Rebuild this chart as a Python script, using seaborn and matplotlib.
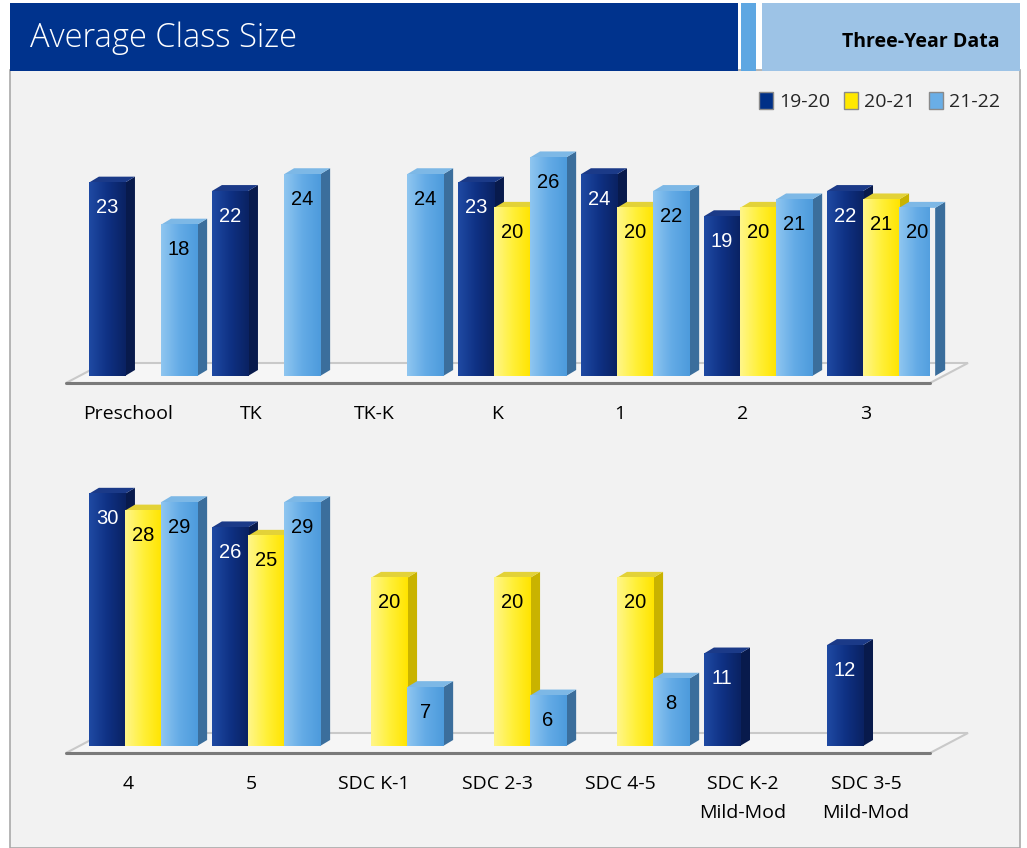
import numpy as np
import pandas as pd
import matplotlib
matplotlib.use("Agg")
import matplotlib.pyplot as plt
import seaborn as sns
from matplotlib.patches import Polygon, Rectangle, Patch
from matplotlib.transforms import ScaledTranslation, IdentityTransform
from matplotlib.colors import LinearSegmentedColormap, to_hex

# ---- data ----
years = ["19-20", "20-21", "21-22"]

cats_top = ["Preschool", "TK", "TK-K", "K", "1", "2", "3"]
top_1920 = [23, 22, None, 23, 24, 19, 22]
top_2021 = [None, None, None, 20, 20, 20, 21]
top_2122 = [18, 24, 24, 26, 22, 21, 20]

cats_bot = ["4", "5", "SDC K-1", "SDC 2-3", "SDC 4-5",
            "SDC K-2\nMild-Mod", "SDC 3-5\nMild-Mod"]
bot_1920 = [30, 26, None, None, None, 11, 12]
bot_2021 = [28, 25, 20, 20, 20, None, None]
bot_2122 = [29, 29, 7, 6, 8, None, None]

# ---- styles ----
front = {"19-20": "#0f3184", "20-21": "#fff03a", "21-22": "#64abe6"}
grad = {"19-20": ["#1f4aa3", "#0f3184", "#0a2262"],
        "20-21": ["#fff68a", "#fff03a", "#ffe400"],
        "21-22": ["#8fc6f0", "#64abe6", "#4d9bdc"]}
side = {"19-20": "#081a4c", "20-21": "#c9b300", "21-22": "#3b6e9c"}
topc = {"19-20": "#1b3a88", "20-21": "#e3d238", "21-22": "#7db8e6"}
legend_col = {"19-20": "#003087", "20-21": "#ffe800", "21-22": "#6aaee6"}
txtcol = {"19-20": "white", "20-21": "black", "21-22": "black"}

W, H = 1027, 848
sns.set_theme(style="white")
plt.rcParams["font.family"] = ["Open Sans", "DejaVu Sans"]

fig = plt.figure(figsize=(W / 100, H / 100), dpi=100)
fig.patch.set_facecolor("white")

# panel background and header
fig.add_artist(Rectangle((10 / W, 0), 1010 / W, (H - 70) / H, transform=fig.transFigure,
                         facecolor="#f2f2f2", edgecolor="#a9a9a9", lw=1.2, zorder=-10))
fig.add_artist(Rectangle((10 / W, 1 - 71 / H), 728 / W, 68 / H, transform=fig.transFigure,
                         facecolor="#00338d", edgecolor="none", zorder=-10))
fig.add_artist(Rectangle((741 / W, 1 - 71 / H), 15 / W, 68 / H, transform=fig.transFigure,
                         facecolor="#5ea7e2", edgecolor="none", zorder=-10))
fig.add_artist(Rectangle((762 / W, 1 - 71 / H), 258 / W, 68 / H, transform=fig.transFigure,
                         facecolor="#9dc3e6", edgecolor="none", zorder=-10))
fig.text(30 / W, 1 - 38 / H, "Average Class Size", color="white", fontsize=23.5,
         fontweight="light", va="center", ha="left")
fig.text(1000 / W, 1 - 42 / H, "Three-Year Data", color="black", fontsize=14,
         fontweight="bold", va="center", ha="right")


def long_form(cats, a, b, c):
    rows = []
    for yr, vals in zip(years, (a, b, c)):
        for cat, v in zip(cats, vals):
            if v is not None:
                rows.append({"cat": cat, "year": yr, "val": v})
    return pd.DataFrame(rows)


def draw_panel(ax, cats, df):
    sns.barplot(data=df, x="cat", y="val", hue="year", order=cats, hue_order=years,
                palette=front, saturation=1, width=0.88, errorbar=None,
                legend=False, ax=ax, zorder=3, linewidth=0)
    ax.set_xlim(-0.626, 6.398)
    ax.set_ylim(0, 32)
    ax.patch.set_alpha(0)
    sns.despine(ax=ax, left=True, bottom=True)
    ax.set_yticks([])
    ax.set_xlabel("")
    ax.set_ylabel("")
    ax.tick_params(axis="x", length=0, pad=21, labelsize=14, colors="black")
    for lbl in ax.get_xticklabels():
        lbl.set_transform(lbl.get_transform() + ScaledTranslation(-0.15, 0, fig.dpi_scale_trans))
        lbl.set_linespacing(1.75)

    bars = [p for p in ax.patches]
    inv = {to_hex(v): k for k, v in front.items()}

    # floor
    bb = ax.get_window_extent()
    L, R, B = bb.x0, bb.x1, bb.y0
    floor = Polygon([(L, B - 7), (R, B - 7), (R + 38, B + 13), (L + 38, B + 13)],
                    closed=True, transform=IdentityTransform(), facecolor="#f6f6f6",
                    edgecolor="#c9c9c9", lw=1.5, zorder=0, clip_on=False)
    ax.add_patch(floor)
    ax.add_line(plt.Line2D([L, R], [B - 7, B - 7], transform=IdentityTransform(),
                           color="#7a7a7a", lw=2.2, zorder=0.5, clip_on=False))

    dx, dy = 10, 6
    for p in bars:
        h = p.get_height()
        if not np.isfinite(h) or h <= 0:
            continue
        yr = inv[to_hex(p.get_facecolor())]
        e = p.get_window_extent()
        ax.add_patch(Polygon([(e.x1, e.y0), (e.x1 + dx, e.y0 + dy), (e.x1 + dx, e.y1 + dy),
                              (e.x1, e.y1)], closed=True, transform=IdentityTransform(),
                             facecolor=side[yr], edgecolor="none", zorder=2, clip_on=False))
        ax.add_patch(Polygon([(e.x0, e.y1), (e.x1, e.y1), (e.x1 + dx, e.y1 + dy),
                              (e.x0 + dx, e.y1 + dy)], closed=True, transform=IdentityTransform(),
                             facecolor=topc[yr], edgecolor="none", zorder=2, clip_on=False))
        x0 = p.get_x()
        x1 = x0 + p.get_width()
        cmap = LinearSegmentedColormap.from_list(yr, grad[yr])
        ax.imshow(np.linspace(0, 1, 64)[None, :], cmap=cmap, extent=[x0, x1, 0, h],
                  aspect="auto", zorder=3.5, interpolation="bilinear")
        ax.annotate(f"{h:.0f}", xy=(x0 + p.get_width() / 2, h), xytext=(0, -25),
                    textcoords="offset pixels", ha="center", va="center",
                    fontsize=14.5, color=txtcol[yr], family="Liberation Sans", zorder=5)
    ax.set_xlim(-0.626, 6.398)
    ax.set_ylim(0, 32)


ax_top = fig.add_axes([66 / W, 1 - 376 / H, 864 / W, 269 / H])
ax_bot = fig.add_axes([66 / W, 1 - 746 / H, 864 / W, 269 / H])
draw_panel(ax_top, cats_top, long_form(cats_top, top_1920, top_2021, top_2122))
draw_panel(ax_bot, cats_bot, long_form(cats_bot, bot_1920, bot_2021, bot_2122))

handles = [Patch(facecolor=legend_col[y], edgecolor="#8a8a8a", lw=1) for y in years]
fig.legend(handles, years, loc="upper right", bbox_to_anchor=(1008 / W, 1 - 84 / H),
           ncol=3, frameon=False, fontsize=14, handlelength=0.75, handleheight=1.0,
           handletextpad=0.3, columnspacing=0.7, borderaxespad=0)

fig.savefig("out.png", dpi=100)
